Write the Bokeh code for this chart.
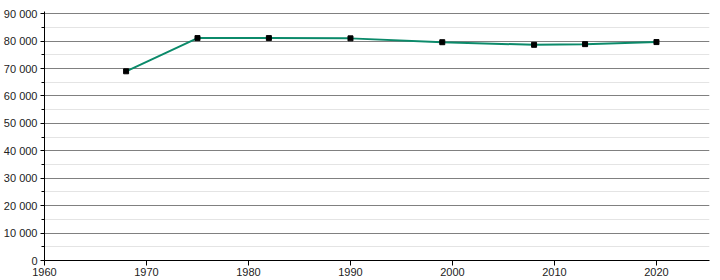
from bokeh.plotting import figure
from bokeh.models import Range1d, SingleIntervalTicker, CustomJSTickFormatter
from bokeh.embed import file_html
from bokeh.resources import INLINE

years = [1968, 1975, 1982, 1990, 1999, 2008, 2013, 2020]
population = [69000, 81100, 81100, 81000, 79600, 78650, 78900, 79650]

p = figure(width=720, height=280, output_backend="svg", toolbar_location=None,
           x_range=Range1d(1960, 2025.2), y_range=Range1d(0, 90800),
           min_border_left=43, min_border_right=11, min_border_top=11, min_border_bottom=20)
p.outline_line_color = None
p.background_fill_color = "white"
p.border_fill_color = "white"

line_color = "#0b8a6a"
p.line(years, population, line_color=line_color, line_width=2)
p.scatter(years, population, marker="square", size=5, fill_color="black", line_color="black")

font = "Liberation Sans"
for ax in (p.xaxis[0], p.yaxis[0]):
    ax.axis_line_color = "black"
    ax.axis_line_width = 1
    ax.major_tick_line_color = "black"
    ax.minor_tick_line_color = "black"
    ax.major_tick_in = 0
    ax.minor_tick_in = 0
    ax.major_label_text_font = font
    ax.major_label_text_font_size = "11px"
    ax.major_label_text_color = "#222222"

p.xaxis[0].ticker = SingleIntervalTicker(interval=10, num_minor_ticks=0)
p.xaxis[0].major_tick_out = 5
p.xaxis[0].major_label_standoff = 2

p.yaxis[0].ticker = SingleIntervalTicker(interval=10000, num_minor_ticks=2)
p.yaxis[0].major_tick_out = 4
p.yaxis[0].minor_tick_out = 3
p.yaxis[0].major_label_standoff = 3
p.yaxis[0].formatter = CustomJSTickFormatter(
    code="return String(Math.round(tick)).replace(/\\B(?=(\\d{3})+(?!\\d))/g, ' ');")

p.xgrid.grid_line_color = None
p.ygrid.grid_line_color = "#808080"
p.ygrid.grid_line_width = 1
p.ygrid.minor_grid_line_color = "#e4e4e4"
p.ygrid.minor_grid_line_width = 1

open("out.html", "w").write(file_html(p, INLINE))
